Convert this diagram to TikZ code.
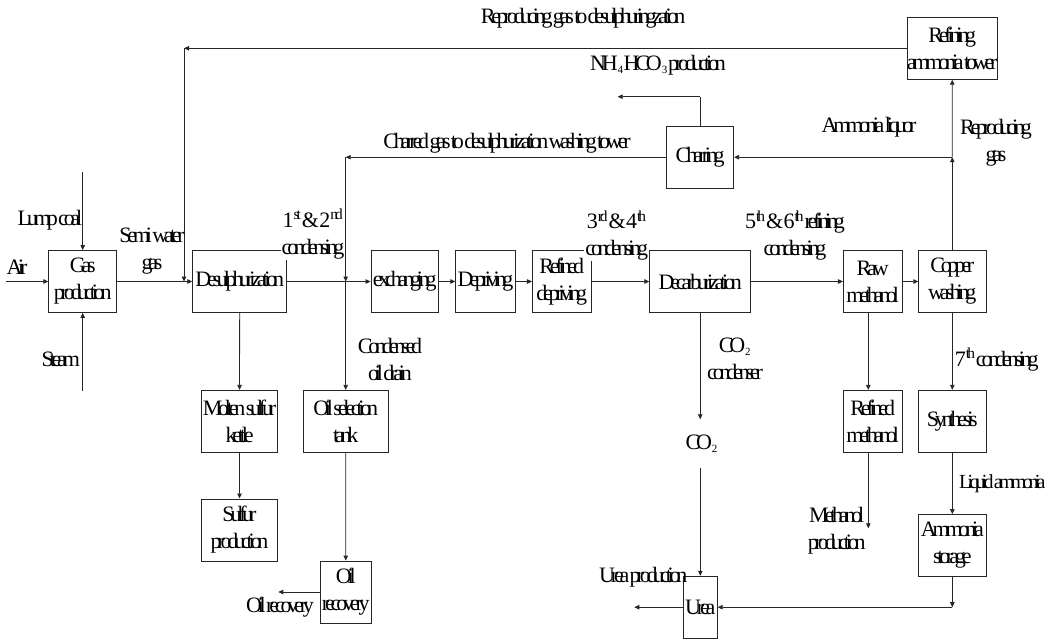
\documentclass[tikz,border=0pt]{standalone}
\usepackage{fontspec}
\setmainfont{Liberation Serif}[LetterSpace=-19,WordSpace=0.3]
\usepackage{tikz}
\usetikzlibrary{arrows.meta,positioning}
\newcommand{\lw}{0.8pt}
\newcommand{\fs}{\fontsize{22}{27}\selectfont}
\newcommand{\subs}[1]{\textsubscript{\fontsize{11}{11}\selectfont #1}}

\begin{document}
\begin{tikzpicture}[x=1pt, y=-1pt, font=\fs,
                    box/.style={draw=black!85, line width=\lw, inner sep=0pt, align=center, minimum height=62},
                    lab/.style={inner sep=1pt, align=center},
                    flow/.style={draw=black!85, line width=\lw, -{Triangle[length=5pt,width=4.5pt]}},
                    line/.style={draw=black!85, line width=\lw}]
                        %\draw[help lines] (0,0) grid[step=50] (1048,642);
                        \useasboundingbox (0,0) rectangle (1048,642);
                        % main line
                        \node[box, minimum width=68] (gas) at (82.7,281.5) {Gas\\production};
                        \node[box, minimum width=94] (desulf) at (239.7,281.5) {Desulphurization};
                        \node[box, minimum width=67.7] (exch) at (404.8,281.5) {exchanging};
                        \node[box, minimum width=59.6] (depr) at (485.5,281.5) {Depriving};
                        \node[box, minimum width=58.7] (rdepr) at (561.7,281.5) {Refined\\depriving};
                        \node[box, minimum width=101] (decarb) at (700.2,281.5) {Decarburization};
                        \node[box, minimum width=58.7] (rawm) at (872.7,281.5) {Raw\\methanol};
                        \node[box, minimum width=67.3] (copper) at (952.3,281.5) {Copper\\washing};
                        % top
                        \node[box, minimum width=84.3] (tower) at (952.2,48.3) {Refining\\ammonia tower};
                        \node[box, minimum width=67] (charr) at (700.2,157.2) {Charring};
                        % bottom
                        \node[box, minimum width=76.4] (molten) at (239.5,421.3) {Molten sulfur\\kettle};
                        \node[box, minimum width=76.4] (sulfur) at (239.5,529.9) {Sulfur\\production};
                        \node[box, minimum width=85.3] (oilsel) at (345.7,421.3) {Oil selection\\tank};
                        \node[box, minimum width=51] (oilrec) at (345.8,592) {Oil\\recovery};
                        \node[box, minimum width=58.7] (refm) at (872.7,421.3) {Refined\\methanol};
                        \node[box, minimum width=67.3] (synth) at (952.3,421.3) {Synthesis};
                        \node[box, minimum width=67.3] (nh3st) at (952.3,545.5) {Ammonia\\storage};
                        \node[box, minimum width=34] (urea) at (700.3,607.2) {Urea};
                        \node[lab, minimum height=48] (co2) at (701.7,443.5) {CO\subs{2}};
                        % free ends
                        \coordinate (air) at (6,281.5);
                        \coordinate (coal) at (82.7,172);
                        \coordinate (steam) at (82.7,390.7);
                        \coordinate (fbk) at (184,48.3);
                        \coordinate (fbkend) at (184,281.5);
                        \coordinate (chg) at (345.7,157.2);
                        \coordinate (chgend) at (345.7,281.5);
                        \coordinate (jn) at (952.3,157.2);
                        \coordinate (nhc) at (700.2,96.7);
                        \coordinate (nhcend) at (617.7,96.7);
                        \coordinate (oilout) at (278.3,592);
                        \coordinate (methout) at (868.3,528.3);
                        \coordinate (uc) at (952.3,607.2);
                        \coordinate (ureaout) at (634.3,607.2);
                        % connectors
                        \draw[flow] (air) -- (gas);
                        \draw[flow] (coal) -- (gas);
                        \draw[flow] (steam) -- (gas);
                        \draw[flow] (gas) -- (desulf);
                        \draw[flow] (tower.west) -- (fbk);
                        \draw[flow] (fbk) -- (fbkend);
                        \draw[flow] (desulf) -- (exch);
                        \draw[flow] (charr.west) -- (chg);
                        \draw[flow] (chg) -- (chgend);
                        \draw[flow] (chgend) -- (oilsel);
                        \draw[flow] (exch) -- (depr);
                        \draw[flow] (depr) -- (rdepr);
                        \draw[flow] (rdepr) -- (decarb);
                        \draw[flow] (decarb) -- (rawm);
                        \draw[flow] (rawm) -- (copper);
                        \draw[flow] (copper) -- (jn);
                        \draw[flow] (jn) -- (tower);
                        \draw[flow] (jn) -- (charr);
                        \draw[line] (charr) -- (nhc);
                        \draw[flow] (nhc) -- (nhcend);
                        \draw[flow] (desulf) -- (molten);
                        \draw[flow] (molten) -- (sulfur);
                        \draw[flow] (oilsel) -- (oilrec);
                        \draw[flow] (oilrec) -- (oilout);
                        \draw[flow] (decarb) -- (decarb.south |- co2.north);
                        \draw[flow] (co2.south -| urea.north) -- (urea);
                        \draw[flow] (rawm.south -| methout) -- (refm.north -| methout);
                        \draw[flow] (refm.south -| methout) -- (methout);
                        \draw[flow] (copper) -- (synth);
                        \draw[flow] (synth) -- (nh3st);
                        \draw[flow] (nh3st) -- (uc);
                        \draw[flow] (uc) -- (urea);
                        \draw[flow] (urea) -- (ureaout);
                        % labels
                        \node[lab] (tdes) at (583,18) {Reproducing gas to desulphuringzation};
                        \node[lab] (tnhc) at (658,65) {NH\subs{4}HCO\subs{3} production};
                        \node[lab] (tchg) at (507,143) {Charred gas to desulphurization washing tower};
                        \node[lab] (tliq) at (869,127) {Ammonia liquor};
                        \node[lab] (trep) at (996,142.5) {Reproducing\\gas};
                        \node[lab] (tair) at (17,267) {Air};
                        \node[lab] (tcoal) at (50,220) {Lump coal};
                        \node[lab] (tsemi) at (152,251.5) {Semi water\\gas};
                        \node[lab, fill=white] (tc12) at (313,234) {1\textsuperscript{st} \& 2\textsuperscript{nd}\\condensing};
                        \node[lab, fill=white] (tc34) at (616.7,235.5) {3\textsuperscript{rd} \& 4\textsuperscript{th}\\condensing};
                        \node[lab] (tc56) at (795,235.5) {5\textsuperscript{th} \& 6\textsuperscript{th} refining\\condensing};
                        \node[lab] (tsteam) at (60.7,359.3) {Steam};
                        \node[lab] (tdrain) at (390,359.5) {Condensed\\oil drain};
                        \node[lab] (toil) at (280,607.3) {Oil recovery};
                        \node[lab] (tco2) at (735,359) {CO\subs{2}\\condenser};
                        \node[lab] (tc7) at (996.7,359.3) {7\textsuperscript{th} condensing};
                        \node[lab, anchor=west, font=\fontsize{20}{27}\selectfont] (tliqa) at (958,483.3) {Liquid ammonia};
                        \node[lab] (tmeth) at (836.7,530.3) {Methanol\\production};
                        \node[lab] (turea) at (643.3,577.3) {Urea production};
                \end{tikzpicture}
\end{document}
